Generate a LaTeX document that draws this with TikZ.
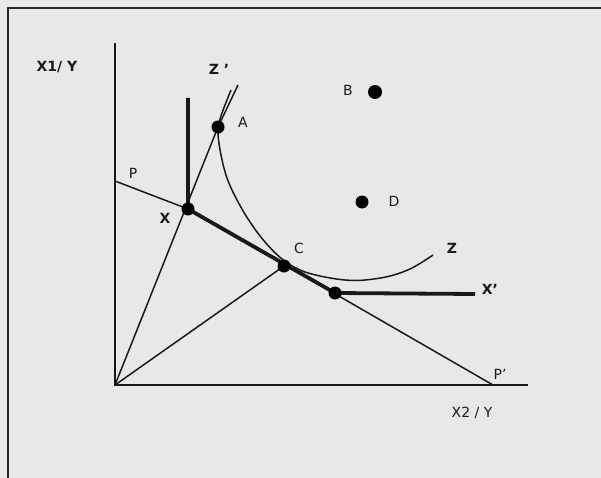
\documentclass[tikz,border=0pt]{standalone}
\usepackage{fontspec}
\setmainfont{DejaVu Sans}
\begin{document}
\begin{tikzpicture}[x=1pt,y=-1pt,
  bgfill/.style={fill=black!9},
  frameline/.style={line width=2pt, black!85},
  axisline/.style={line width=1.9pt, black!90},
  thinline/.style={line width=1.5pt, black!90},
  thickline/.style={line width=3.8pt, black!90, line join=round},
  dot/.style={circle, fill=black, inner sep=0pt, minimum size=13pt},
  lab/.style={font=\fontsize{14}{16}\selectfont, inner sep=0pt, text=black!90},
  blab/.style={font=\fontsize{14}{16}\selectfont\bfseries, inner sep=0pt, text=black!90}]
\useasboundingbox (0,0) rectangle (601,478);
\fill[bgfill] (0,0) rectangle (601,478);
\draw[frameline] (8,478) -- (8,8) -- (601,8);
% coordinates
\coordinate (O) at (115,385);
\coordinate (Ytop) at (115,43);
\coordinate (Xend) at (528,385);
\coordinate (P) at (115,181);
\coordinate (Pp) at (493,385);
\coordinate (X) at (188,209);
\coordinate (A) at (218,127);
\coordinate (C) at (284,266);
\coordinate (Xp) at (335,293);
\coordinate (B) at (375,92);
\coordinate (D) at (362,202);
\coordinate (Rtop) at (238,85);
\coordinate (Vtop) at (188,98);
\coordinate (Hend) at (475,294);
% axes
\draw[axisline] (Ytop) -- (O) -- (Xend);
% budget line
\draw[thinline] (P) -- (X) -- (Pp);
% rays
\draw[thinline] (O) -- (A) -- (Rtop);
\draw[thinline] (O) -- (C);
% indifference curve
\draw[thinline] plot[smooth, tension=0.6] coordinates {(231,90) (221,116) (218,132) (221,155) (227,178) (237,200) (250,222) (265,242) (282,259) (300,270) (320,276) (345,280) (365,280) (390,276) (412,268) (433,255)};
% thick path
\draw[thickline] (Vtop) -- (X) -- (Xp) -- (Hend);
% dots
\node[dot] (dA) at (A) {};
\node[dot] (dX) at (X) {};
\node[dot] (dC) at (C) {};
\node[dot] (dXp) at (Xp) {};
\node[dot, minimum size=14pt] (dB) at (B) {};
\node[dot] (dD) at (D) {};
% labels
\node[blab] (lY) at (57,67) {X1/ Y};
\node[blab] (lZp) at (219,69) {Z ’};
\node[lab] (lA) at (243,122) {A};
\node[lab] (lP) at (133,173) {P};
\node[blab] (lX) at (165,218) {X};
\node[lab] (lB) at (348,90) {B};
\node[lab] (lD) at (394,201) {D};
\node[lab] (lC) at (299,248) {C};
\node[blab] (lZ) at (452,248) {Z};
\node[blab] (lXp) at (490,289) {X’};
\node[lab] (lPp) at (500,374) {P’};
\node[lab] (lX2) at (472,413) {X2 / Y};
\end{tikzpicture}
\end{document}
